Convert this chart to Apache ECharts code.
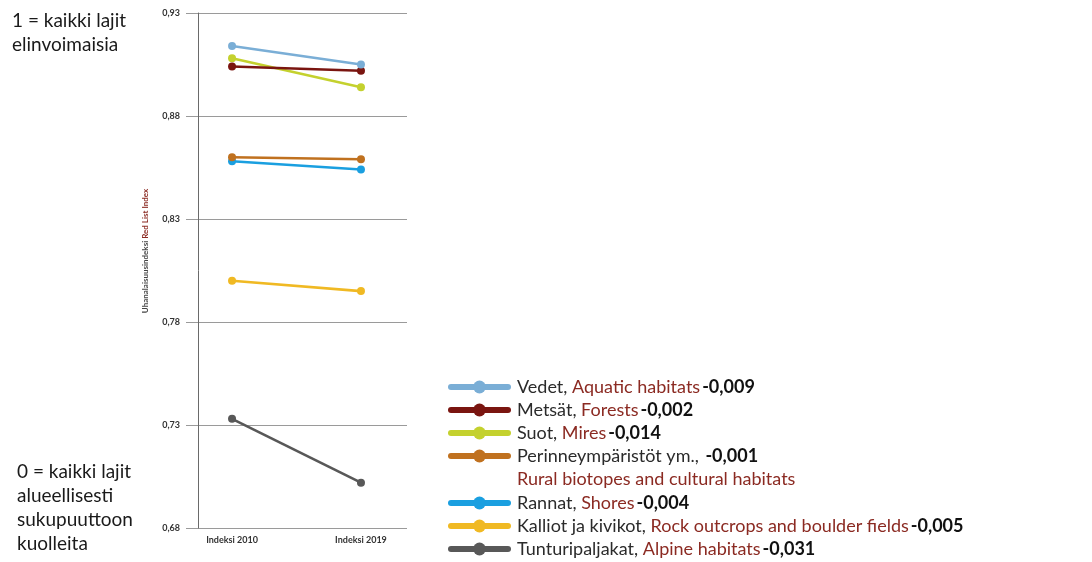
<!DOCTYPE html>
<html>
<head>
<meta charset="utf-8">
<script src="https://cdn.jsdelivr.net/npm/echarts@6/dist/echarts.min.js"></script>
<style>
  html, body { margin: 0; padding: 0; background: #fff; }
  #chart { width: 1092px; height: 562px; }
</style>
</head>
<body>
<div id="chart"></div>
<script>
// Punaisen listan indeksi elinympäristöittäin, 2010 ja 2019
const categories = ['Indeksi 2010', 'Indeksi 2019'];
const yTicks = [0.68, 0.73, 0.78, 0.83, 0.88, 0.93];

const finnishNames = ['Vedet', 'Metsät', 'Suot', 'Perinneympäristöt ym.', 'Rannat', 'Kalliot ja kivikot', 'Tunturipaljakat'];
const englishNames = ['Aquatic habitats', 'Forests', 'Mires', 'Rural biotopes and cultural habitats', 'Shores', 'Rock outcrops and boulder fields', 'Alpine habitats'];
const colors = ['#7aaed6', '#7a1510', '#c4d12e', '#c0711f', '#1a9fe0', '#f0b923', '#585858'];

const vedet = [0.914, 0.905];
const metsat = [0.904, 0.902];
const suot = [0.908, 0.894];
const perinne = [0.860, 0.859];
const rannat = [0.858, 0.854];
const kalliot = [0.800, 0.795];
const tunturi = [0.733, 0.702];
const seriesValues = [vedet, metsat, suot, perinne, rannat, kalliot, tunturi];

// English name shown on its own line under the Finnish one
const wrappedEnglish = new Set(['Perinneympäristöt ym.']);

const fmt = v => v.toFixed(3).replace('.', ',');
const change = vals => fmt(vals[1] - vals[0]);

const series = finnishNames.map((name, i) => ({
  name: name,
  type: 'line',
  data: categories.map((c, j) => [j, seriesValues[i][j]]),
  symbol: 'circle',
  symbolSize: 8,
  color: colors[i],
  lineStyle: { width: 2.6, color: colors[i] },
  itemStyle: { color: colors[i] },
  z: 3 + (finnishNames.length - i)
}));

const richLegend = {
  fi: { fontFamily: 'Lato', fontSize: 18, color: '#2b2b2b', lineHeight: 20 },
  en: { fontFamily: 'Lato', fontSize: 18, color: '#8b2a22', lineHeight: 20 },
  v: { fontFamily: 'Lato', fontSize: 18, fontWeight: 'bold', color: '#111', lineHeight: 20, padding: [0, 0, 0, 2] }
};

function legendText(name) {
  const i = finnishNames.indexOf(name);
  if (wrappedEnglish.has(name)) {
    return '{fi|' + name + ', }{v|' + change(seriesValues[i]) + '}';
  }
  return '{fi|' + name + ', }{en|' + englishNames[i] + '}{v|' + change(seriesValues[i]) + '}';
}

const legendBase = {
  orient: 'vertical',
  left: 448,
  padding: 0,
  itemGap: 5,
  itemWidth: 57,
  itemHeight: 16,
  selectedMode: false,
  lineStyle: { width: 6, cap: 'round' },
  formatter: legendText,
  textStyle: { rich: richLegend, padding: [0, 0, 0, 4] }
};

const option = {
  backgroundColor: '#fff',
  animation: false,
  grid: { left: 198, right: 685, top: 13, bottom: 34, containLabel: false },
  xAxis: {
    type: 'value',
    min: -0.264,
    max: 1.357,
    axisLine: { show: false },
    axisTick: { show: false },
    splitLine: { show: false },
    axisLabel: {
      customValues: [0, 1],
      formatter: v => categories[Math.round(v)],
      fontFamily: 'Lato',
      fontSize: 9,
      fontWeight: 'bold',
      color: '#333',
      margin: 8
    }
  },
  yAxis: {
    type: 'value',
    min: yTicks[0],
    max: yTicks[yTicks.length - 1],
    axisLine: { show: true, onZero: false, lineStyle: { color: '#6a6a6a', width: 1 } },
    axisTick: { show: true, customValues: yTicks, length: 12, lineStyle: { color: '#9a9a9a' } },
    splitLine: { show: true, lineStyle: { color: '#9a9a9a', width: 1 } },
    axisLabel: {
      customValues: yTicks,
      formatter: v => v.toFixed(2).replace('.', ','),
      fontFamily: 'Lato',
      fontSize: 9,
      fontWeight: 'bold',
      color: '#333',
      margin: 18
    }
  },
  legend: [
    Object.assign({}, legendBase, { top: 378, data: finnishNames.slice(0, 4) }),
    Object.assign({}, legendBase, { top: 494, data: finnishNames.slice(4) })
  ],
  graphic: [
    {
      type: 'text',
      x: 145,
      y: 251,
      rotation: Math.PI / 2,
      style: {
        text: '{a|Uhanalaisuusindeksi }{b|Red List Index}',
        align: 'center',
        verticalAlign: 'middle',
        rich: {
          a: { fontFamily: 'Lato', fontSize: 8, fontWeight: 'bold', fill: '#444' },
          b: { fontFamily: 'Lato', fontSize: 8, fontWeight: 'bold', fill: '#8b2a22' }
        }
      }
    },
    {
      type: 'text',
      left: 517,
      top: 470,
      style: {
        text: englishNames[3],
        font: '18px Lato',
        fill: '#8b2a22'
      }
    },
    {
      type: 'text',
      left: 12,
      top: 9,
      style: {
        text: '1 = kaikki lajit\nelinvoimaisia',
        font: '19px Lato',
        lineHeight: 24,
        fill: '#1a1a1a'
      }
    },
    {
      type: 'text',
      left: 17,
      top: 460,
      style: {
        text: '0 = kaikki lajit\nalueellisesti\nsukupuuttoon\nkuolleita',
        font: '19px Lato',
        lineHeight: 24,
        fill: '#1a1a1a'
      }
    }
  ],
  series: series
};

const chart = echarts.init(document.getElementById('chart'), null, { renderer: 'canvas' });
chart.setOption(option);
</script>
</body>
</html>
